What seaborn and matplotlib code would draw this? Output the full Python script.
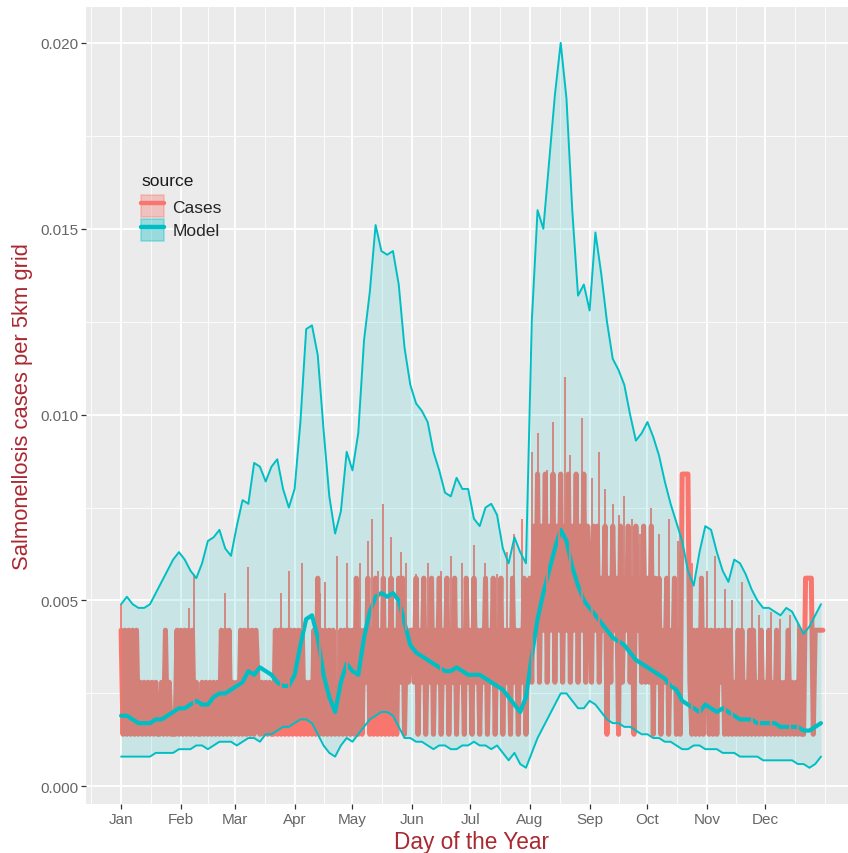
import numpy as np
import pandas as pd
import matplotlib
matplotlib.use("Agg")
import matplotlib.pyplot as plt
from matplotlib.lines import Line2D
from matplotlib.patches import Patch
from matplotlib.ticker import FixedLocator
import seaborn as sns

# x axis: first day of each month
month_days = [1, 32, 60, 91, 121, 152, 182, 213, 244, 274, 305, 335]
month_labels = ["Jan", "Feb", "Mar", "Apr", "May", "Jun",
                "Jul", "Aug", "Sep", "Oct", "Nov", "Dec"]
y_ticks = [0.0, 0.005, 0.010, 0.015, 0.020]
y_labels = ["0.000", "0.005", "0.010", "0.015", "0.020"]

model_days = list(range(1, 365, 3))
model_mean = [
    0.0019, 0.0019, 0.0018, 0.0017, 0.0017, 0.0017, 0.0018, 0.0018, 0.0019, 0.0020,
    0.0021, 0.0021, 0.0022, 0.0023, 0.0022, 0.0022, 0.0024, 0.0025, 0.0025, 0.0026,
    0.0027, 0.0028, 0.0031, 0.0030, 0.0032, 0.0031, 0.0030, 0.0028, 0.0027, 0.0027,
    0.0030, 0.0038, 0.0045, 0.0046, 0.0040, 0.0030, 0.0024, 0.0020, 0.0028, 0.0033,
    0.0031, 0.0030, 0.0040, 0.0047, 0.0051, 0.0052, 0.0051, 0.0052, 0.0050, 0.0044,
    0.0038, 0.0036, 0.0035, 0.0034, 0.0033, 0.0032, 0.0031, 0.0031, 0.0032, 0.0031,
    0.0030, 0.0030, 0.0030, 0.0029, 0.0028, 0.0027, 0.0026, 0.0024, 0.0022, 0.0020,
    0.0024, 0.0035, 0.0045, 0.0052, 0.0058, 0.0064, 0.0069, 0.0066, 0.0059, 0.0054,
    0.0050, 0.0048, 0.0046, 0.0044, 0.0042, 0.0040, 0.0039, 0.0038, 0.0036, 0.0034,
    0.0033, 0.0032, 0.0031, 0.0030, 0.0029, 0.0027, 0.0026, 0.0023, 0.0022, 0.0021,
    0.0020, 0.0022, 0.0021, 0.0020, 0.0021, 0.0020, 0.0019, 0.0018, 0.0018, 0.0018,
    0.0017, 0.0017, 0.0017, 0.0017, 0.0016, 0.0016, 0.0016, 0.0016, 0.0015, 0.0015,
    0.0016, 0.0017,
]
model_low = [
    0.0008, 0.0008, 0.0008, 0.0008, 0.0008, 0.0008, 0.0009, 0.0009, 0.0009, 0.0009,
    0.0010, 0.0010, 0.0010, 0.0011, 0.0011, 0.0010, 0.0011, 0.0012, 0.0012, 0.0012,
    0.0011, 0.0012, 0.0013, 0.0013, 0.0012, 0.0014, 0.0014, 0.0015, 0.0016, 0.0016,
    0.0017, 0.0018, 0.0018, 0.0017, 0.0014, 0.0011, 0.0009, 0.0008, 0.0011, 0.0013,
    0.0012, 0.0014, 0.0016, 0.0018, 0.0019, 0.0020, 0.0020, 0.0019, 0.0016, 0.0013,
    0.0013, 0.0012, 0.0012, 0.0011, 0.0010, 0.0011, 0.0011, 0.0010, 0.0010, 0.0011,
    0.0011, 0.0012, 0.0011, 0.0011, 0.0010, 0.0011, 0.0009, 0.0007, 0.0009, 0.0006,
    0.0005, 0.0009, 0.0013, 0.0016, 0.0019, 0.0022, 0.0025, 0.0025, 0.0023, 0.0021,
    0.0021, 0.0023, 0.0022, 0.0020, 0.0018, 0.0017, 0.0017, 0.0016, 0.0016, 0.0015,
    0.0014, 0.0014, 0.0013, 0.0013, 0.0012, 0.0012, 0.0011, 0.0010, 0.0010, 0.0011,
    0.0011, 0.0010, 0.0010, 0.0010, 0.0009, 0.0009, 0.0009, 0.0008, 0.0008, 0.0008,
    0.0008, 0.0007, 0.0007, 0.0007, 0.0007, 0.0007, 0.0007, 0.0006, 0.0006, 0.0005,
    0.0006, 0.0008,
]
model_high = [
    0.0049, 0.0051, 0.0049, 0.0048, 0.0048, 0.0049, 0.0052, 0.0055, 0.0058, 0.0061,
    0.0063, 0.0061, 0.0058, 0.0056, 0.0060, 0.0066, 0.0067, 0.0069, 0.0064, 0.0062,
    0.0070, 0.0077, 0.0076, 0.0087, 0.0086, 0.0082, 0.0086, 0.0088, 0.0080, 0.0075,
    0.0080, 0.0098, 0.0123, 0.0124, 0.0116, 0.0096, 0.0078, 0.0068, 0.0074, 0.0090,
    0.0085, 0.0095, 0.0120, 0.0133, 0.0151, 0.0144, 0.0143, 0.0144, 0.0135, 0.0118,
    0.0108, 0.0103, 0.0101, 0.0098, 0.0090, 0.0085, 0.0079, 0.0078, 0.0083, 0.0080,
    0.0080, 0.0072, 0.0070, 0.0075, 0.0076, 0.0073, 0.0064, 0.0060, 0.0067, 0.0063,
    0.0060, 0.0125, 0.0155, 0.0150, 0.0168, 0.0186, 0.0200, 0.0185, 0.0155, 0.0132,
    0.0135, 0.0128, 0.0149, 0.0138, 0.0125, 0.0115, 0.0112, 0.0108, 0.0100, 0.0093,
    0.0095, 0.0098, 0.0094, 0.0089, 0.0082, 0.0076, 0.0071, 0.0066, 0.0058, 0.0054,
    0.0063, 0.0070, 0.0069, 0.0063, 0.0058, 0.0055, 0.0061, 0.0060, 0.0057, 0.0053,
    0.0050, 0.0048, 0.0048, 0.0047, 0.0046, 0.0048, 0.0047, 0.0044, 0.0041, 0.0043,
    0.0046, 0.0049,
]

# daily cases, as a count of the per-grid unit (one row per month)
case_unit = 0.0014
case_counts = [
    3, 1, 3, 1, 3, 1, 3, 1, 3, 1, 2, 1, 2, 1, 2, 1, 2, 1, 2, 1, 1, 2, 1, 3, 1, 2, 1, 1, 1, 3, 1,
    3, 1, 3, 1, 3, 1, 3, 1, 2, 1, 1, 2, 1, 2, 1, 2, 1, 2, 1, 2, 1, 3, 1, 3, 1, 3, 1, 2,
    1, 2, 1, 3, 1, 3, 1, 3, 1, 3, 1, 3, 2, 1, 2, 1, 2, 1, 2, 1, 1, 3, 1, 3, 1, 3, 1, 3, 1, 3, 1,
    3, 1, 3, 1, 3, 1, 2, 1, 2, 1, 3, 1, 4, 1, 3, 1, 3, 1, 3, 1, 3, 1, 2, 1, 3, 1, 3, 1, 3, 1,
    3, 1, 4, 1, 3, 1, 3, 2, 4, 1, 3, 1, 4, 1, 3, 1, 4, 1, 3, 1, 4, 1, 3, 1, 4, 2, 4, 1, 3, 2, 3,
    3, 2, 4, 1, 3, 2, 4, 1, 3, 2, 4, 1, 3, 2, 4, 1, 3, 2, 4, 1, 3, 2, 4, 1, 3, 2, 3, 1, 4, 2,
    3, 1, 4, 2, 3, 1, 3, 2, 4, 1, 3, 2, 4, 1, 3, 2, 4, 1, 3, 2, 3, 1, 4, 2, 3, 1, 3, 2, 4, 1, 3,
    4, 2, 5, 3, 6, 2, 5, 3, 6, 2, 5, 3, 6, 2, 5, 3, 6, 2, 5, 3, 6, 2, 5, 3, 6, 2, 5, 3, 6, 2, 5,
    4, 2, 5, 3, 5, 2, 4, 3, 5, 1, 4, 2, 5, 3, 4, 1, 5, 2, 4, 3, 5, 2, 4, 1, 5, 3, 4, 2, 5, 2,
    4, 2, 5, 1, 4, 2, 4, 1, 3, 2, 4, 1, 3, 2, 4, 1, 3, 1, 6, 6, 6, 6, 2, 1, 3, 1, 3, 1, 4, 1, 3,
    3, 1, 3, 1, 3, 1, 3, 2, 3, 1, 3, 1, 3, 1, 2, 1, 3, 1, 3, 1, 2, 1, 3, 1, 3, 1, 2, 1, 3, 1,
    2, 1, 3, 1, 2, 1, 3, 1, 2, 1, 2, 1, 3, 1, 2, 1, 2, 1, 3, 1, 1, 4, 4, 4, 4, 1, 3, 3, 3, 3, 3,
]
# single-day peaks drawn as the thin lines
spike_days = [1, 36, 39, 55, 67, 84, 88,
              95, 104, 107, 113, 118,
              125, 129, 131, 134, 137, 141, 146, 149,
              154, 160, 167, 172, 178,
              184, 190, 196, 201, 205, 209,
              214, 217, 222, 225, 228, 231, 234, 237, 240,
              245, 249, 252, 256, 259, 262, 266, 270,
              276, 280, 285, 290, 297, 301,
              305, 309, 314, 318, 323, 328, 332,
              338, 343, 348, 352]
spike_values = [0.0049, 0.0048, 0.0057, 0.0052, 0.0059, 0.0052, 0.0058,
                0.0060, 0.0052, 0.0055, 0.0062, 0.0060,
                0.0060, 0.0066, 0.0072, 0.0058, 0.0076, 0.0067, 0.0063, 0.0060,
                0.0057, 0.0060, 0.0058, 0.0062, 0.0060,
                0.0065, 0.0060, 0.0057, 0.0063, 0.0068, 0.0072,
                0.0090, 0.0095, 0.0085, 0.0098, 0.0078, 0.0110, 0.0089, 0.0080, 0.0099,
                0.0083, 0.0090, 0.0080, 0.0076, 0.0073, 0.0078, 0.0072, 0.0068,
                0.0075, 0.0068, 0.0072, 0.0066, 0.0060, 0.0055,
                0.0058, 0.0062, 0.0053, 0.0050, 0.0055, 0.0050, 0.0046,
                0.0047, 0.0045, 0.0046, 0.0044]

CASES = "#F8766D"
MODEL = "#00BFC4"
LABEL_RED = "#AA2831"

cases_df = pd.DataFrame({"day": np.arange(1, 366),
                         "value": np.array(case_counts) * case_unit})
model_df = pd.DataFrame({"day": model_days, "mean": model_mean,
                         "low": model_low, "high": model_high})

sns.set_theme(style="darkgrid", rc={"axes.facecolor": "#EBEBEB",
                                    "grid.color": "white"})
plt.rcParams["font.family"] = ["Liberation Sans", "DejaVu Sans"]

fig = plt.figure(figsize=(8.48, 8.54), dpi=100)
ax = fig.add_axes([86 / 848, 49 / 854, 772 / 848, 797.4 / 854])

# cases first, model mean over them, thin case peaks and the band on top
sns.lineplot(data=cases_df, x="day", y="value", color=CASES, lw=3.6,
             solid_joinstyle="round", ax=ax, zorder=2)
sns.lineplot(data=model_df, x="day", y="mean", color=MODEL, lw=3.0,
             solid_joinstyle="round", ax=ax, zorder=2.5)
base = cases_df.set_index("day").loc[spike_days, "value"].values
ax.vlines(spike_days, base, spike_values, color=CASES, lw=1.3, zorder=2.6)
ax.fill_between(model_df["day"], model_df["low"], model_df["high"],
                color=MODEL, alpha=0.15, lw=0, zorder=3)
sns.lineplot(data=model_df, x="day", y="high", color=MODEL, lw=1.4, ax=ax, zorder=4)
sns.lineplot(data=model_df, x="day", y="low", color=MODEL, lw=1.4, ax=ax, zorder=4)

# limits with 5% padding like ggplot
x0, x1 = 1, 365
y0, y1 = min(model_low), max(model_high)
ax.set_xlim(x0 - 0.05 * (x1 - x0), x1 + 0.05 * (x1 - x0))
ax.set_ylim(y0 - 0.05 * (y1 - y0), y1 + 0.05 * (y1 - y0))

ax.set_xticks(month_days, month_labels)
ax.set_yticks(y_ticks, y_labels)
ext = [month_days[0] - 31] + month_days + [month_days[-1] + 31]
minor_x = [(a + b) / 2 for a, b in zip(ext[:-1], ext[1:])] + [ext[-1]]
ax.xaxis.set_minor_locator(FixedLocator(minor_x))
ax.yaxis.set_minor_locator(FixedLocator([0.0025, 0.0075, 0.0125, 0.0175]))
ax.grid(which="major", color="white", lw=1.3)
ax.grid(which="minor", color="white", lw=0.6)
ax.tick_params(which="major", length=3.5, width=0.9, color="#333333",
               labelcolor="#666666", labelsize=11, pad=2,
               bottom=True, left=True)
ax.tick_params(which="minor", length=0)
for s in ax.spines.values():
    s.set_visible(False)

ax.set_xlabel("Day of the Year", fontsize=16.3, color=LABEL_RED, labelpad=3)
ax.set_ylabel("Salmonellosis cases per 5km grid", fontsize=15.8,
              color=LABEL_RED, labelpad=5)

handles = [
    (Patch(facecolor=CASES, alpha=0.35, edgecolor=CASES, lw=1.2),
     Line2D([], [], color=CASES, lw=3.2)),
    (Patch(facecolor=MODEL, alpha=0.35, edgecolor=MODEL, lw=1.2),
     Line2D([], [], color=MODEL, lw=3.2)),
]
fig.text(141 / 848, 1 - 181 / 854, "source", fontsize=12.5, va="center",
         color="#1A1A1A")
fig.legend(handles, ["Cases", "Model"], loc="upper left",
           bbox_to_anchor=(141 / 848, 1 - 196 / 854), frameon=False,
           fontsize=12.5, handlelength=1.3, handleheight=1.57,
           labelspacing=0.1, handletextpad=0.5, borderpad=0, borderaxespad=0)

fig.savefig("out.png", dpi=100)
